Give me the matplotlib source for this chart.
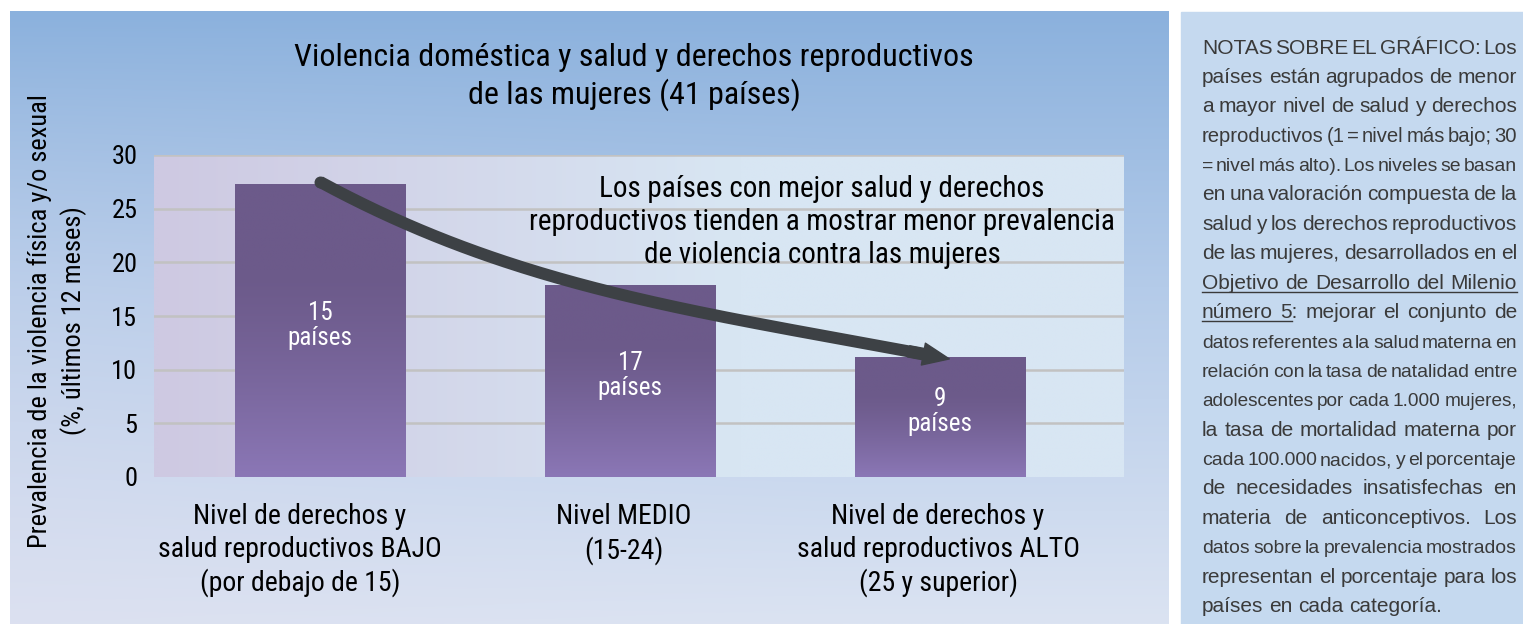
import numpy as np
import matplotlib
matplotlib.use("Agg")
import matplotlib.pyplot as plt
from matplotlib import font_manager
from matplotlib.patches import FancyArrowPatch, Rectangle
from matplotlib.transforms import ScaledTranslation

# ---------------- data ----------------
categories = ["Nivel de derechos y\nsalud reproductivos BAJO\n(por debajo de 15)",
              "Nivel MEDIO\n(15-24)",
              "Nivel de derechos y\nsalud reproductivos ALTO\n(25 y superior)"]
prevalence = [27.3, 17.9, 11.2]
country_counts = [15, 17, 9]
y_ticks = [0, 5, 10, 15, 20, 25, 30]
title = "Violencia doméstica y salud y derechos reproductivos\nde las mujeres (41 países)"
ylabel = "Prevalencia de la violencia física y/o sexual\n(%, últimos 12 meses)"
annotation = ("Los países con mejor salud y derechos\n"
              "reproductivos tienden a mostrar menor prevalencia\n"
              "de violencia contra las mujeres")
notes_lines = [
    "NOTAS SOBRE EL GRÁFICO: Los",
    "países están agrupados de menor",
    "a mayor nivel de salud y derechos",
    "reproductivos (1 = nivel más bajo; 30",
    "= nivel más alto).  Los niveles se basan",
    "en una valoración compuesta de la",
    "salud y los derechos reproductivos",
    "de las mujeres, desarrollados en el",
    "Objetivo de Desarrollo del Milenio",
    "número 5: mejorar el conjunto de",
    "datos referentes a la salud materna en",
    "relación con la tasa de natalidad entre",
    "adolescentes por cada 1.000 mujeres,",
    "la tasa de mortalidad materna por",
    "cada 100.000 nacidos, y el porcentaje",
    "de necesidades insatisfechas en",
    "materia de anticonceptivos. Los",
    "datos sobre la prevalencia mostrados",
    "representan el porcentaje para los",
    "países en cada categoría.",
]

# ---------------- fonts ----------------
names = {f.name for f in font_manager.fontManager.ttflist}
def pick(cands, default="DejaVu Sans"):
    for c in cands:
        if c in names:
            return c
    return default
narrow = pick(["Liberation Sans Narrow", "Roboto Condensed", "DejaVu Sans Condensed"])
regular = pick(["Liberation Sans", "Roboto", "Noto Sans"])
plt.rcParams["font.family"] = [narrow, "DejaVu Sans"]

W, H = 1523, 624
fig = plt.figure(figsize=(W / 100, H / 100), dpi=100)
fig.patch.set_facecolor("white")

# ---------------- background panels ----------------
bg = fig.add_axes([0, 0, 1, 1], zorder=0)
bg.set_xlim(0, W)
bg.set_ylim(H, 0)
bg.axis("off")

ny, nx = 300, 200
t = np.linspace(0, 1, ny)[:, None, None]
u = np.linspace(0, 1, nx)[None, :, None]
top = np.array([139, 177, 221]) / 255
mid = np.array([180, 203, 233]) / 255
bot = np.array([219, 227, 242]) / 255
img = np.where(t < 0.45, top + (mid - top) * (t / 0.45), mid + (bot - mid) * ((t - 0.45) / 0.55))
img = img * np.ones((1, nx, 1))
lav = np.array([222, 221, 238]) / 255
f = np.clip((1 - u * 1.4), 0, 1) * np.clip(t * 1.2, 0, 1) * 0.35
img = img * (1 - f) + lav * f
bg.imshow(img, extent=(10, 1169, 624, 11), aspect="auto", interpolation="bilinear", zorder=0)
bg.add_patch(Rectangle((1181, 12), W - 1181, H - 12, color="#C5D9EF", zorder=0))

# ---------------- main axes ----------------
ax = fig.add_axes([154 / W, 1 - 477 / H, 970 / W, 322 / H], zorder=2)
ax.patch.set_alpha(0)
x = np.arange(len(prevalence))

left_c = np.array([206, 201, 226]) / 255
right_c = np.array([216, 230, 243]) / 255
s = np.clip(np.linspace(0, 1, 100) / 0.6, 0, 1)[None, :, None]
grad = (left_c + (right_c - left_c) * s) * np.ones((2, 1, 1))
ax.imshow(grad, extent=(0, 1, 0, 1), transform=ax.transAxes, aspect="auto", zorder=0,
          interpolation="bilinear")

for yv in y_ticks[1:]:
    ax.axhline(yv, color="#C2C2C2", lw=1.8, zorder=1)

bars = ax.bar(x, prevalence, width=0.55, color="none", zorder=3)
tb = np.linspace(0, 1, 200)[:, None, None]
btop = np.array([108, 90, 138]) / 255
bbot = np.array([139, 119, 182]) / 255
bw = np.clip((tb - 0.3) / 0.7, 0, 1) ** 1.3
bimg = btop + (bbot - btop) * bw
for b in bars:
    x0, x1 = b.get_x(), b.get_x() + b.get_width()
    im = ax.imshow(bimg, extent=(x0, x1, 0, b.get_height()), aspect="auto", zorder=3,
                   interpolation="bilinear")
    im.set_clip_path(b)

for xi, v, n in zip(x, prevalence, country_counts):
    ax.text(xi, v * 0.5 + 0.5, f"{n}\npaíses", ha="center", va="center", color="white",
            fontsize=18, linespacing=1.05, zorder=6)

# ---------------- trend arrow (cubic curve from first bar top to last bar top) ----------------
arrow_color = "#3D4145"
p0 = np.array([x[0], prevalence[0] + 0.2])
p3 = np.array([x[-1] + 0.03, prevalence[-1] - 0.2])
p1 = p0 + np.array([0.645, -10.1])
p2 = p3 + np.array([-0.806, 4.4])
def bez(tt):
    tt = np.asarray(tt)[:, None]
    return ((1 - tt) ** 3) * p0 + 3 * ((1 - tt) ** 2) * tt * p1 + 3 * (1 - tt) * tt ** 2 * p2 + tt ** 3 * p3
curve = bez(np.linspace(0, 0.96, 160))
ax.plot(curve[:, 0], curve[:, 1], color=arrow_color, lw=8.6, solid_capstyle="butt", zorder=5)
ax.plot([p0[0]], [p0[1]], "o", ms=8.6, mew=0, color=arrow_color, zorder=5)
head_start = bez([0.945])[0]
arr = FancyArrowPatch(tuple(head_start), tuple(p3),
                      arrowstyle="simple,head_length=0.95,head_width=0.8,tail_width=0.41",
                      mutation_scale=20, color=arrow_color, zorder=5, shrinkA=0, shrinkB=0)
ax.add_patch(arr)

ax.set_xlim(-0.5355, 2.5935)
ax.set_ylim(0, 30)
ax.set_yticks(y_ticks)
ax.set_yticklabels([str(v) for v in y_ticks], fontsize=19)
ax.set_xticks(x)
ax.set_xticklabels(categories, fontsize=20, linespacing=1.25)
ax.tick_params(axis="y", length=0, pad=12)
ax.tick_params(axis="x", length=0, pad=19)
for sp in ax.spines.values():
    sp.set_visible(False)
for lbl, dx in zip(ax.get_xticklabels(), [-20, -6, -2]):
    lbl.set_transform(lbl.get_transform() + ScaledTranslation(dx / 100, 0, fig.dpi_scale_trans))

# ---------------- texts ----------------
fig.text(634 / W, 1 - 77 / H, title, ha="center", va="center", fontsize=23,
         linespacing=1.25, zorder=3)
fig.text(822 / W, 1 - 222 / H, annotation, ha="center", va="center", fontsize=21,
         linespacing=1.22, multialignment="center", zorder=3)
fig.text(57 / W, 1 - 321 / H, ylabel, ha="center", va="center", rotation=90,
         fontsize=19, linespacing=1.35, multialignment="center", zorder=3)

# ---------------- notes (justified) ----------------
renderer = fig.canvas.get_renderer()
note_color = "#3A3A3A"
x_left, x_right = 1202, 1517
base0, step = 53.5, 29.4
nfs = 15
def measure(s_, fs_):
    tt = bg.text(0, 0, s_, fontsize=fs_, family=regular)
    w_ = tt.get_window_extent(renderer).width
    tt.remove()
    return w_
for i, line in enumerate(notes_lines):
    words = line.split()
    yb = base0 + i * step
    fs = nfs
    last = i == len(notes_lines) - 1
    while True:
        widths = [measure(w, fs) for w in words]
        sp = measure("a a", fs) - measure("aa", fs)
        natural = sum(widths) + sp * 0.45 * (len(words) - 1)
        if last or natural <= (x_right - x_left) or fs < 11:
            break
        fs *= 0.99
    gap = sp if last else (x_right - x_left - sum(widths)) / (len(words) - 1)
    xc = x_left
    starts = []
    for w, w_ in zip(words, widths):
        bg.text(xc, yb, w, fontsize=fs, family=regular, color=note_color,
                va="baseline", ha="left", zorder=3)
        starts.append(xc)
        xc += w_ + gap
    if i == 8:
        bg.plot([x_left, x_right], [yb + 3, yb + 3], color=note_color, lw=1, zorder=3)
    if i == 9:
        w5 = measure("5", fs)
        bg.plot([starts[0], starts[1] + w5], [yb + 3, yb + 3], color=note_color, lw=1, zorder=3)

fig.savefig("out.png", dpi=100, facecolor="white")
